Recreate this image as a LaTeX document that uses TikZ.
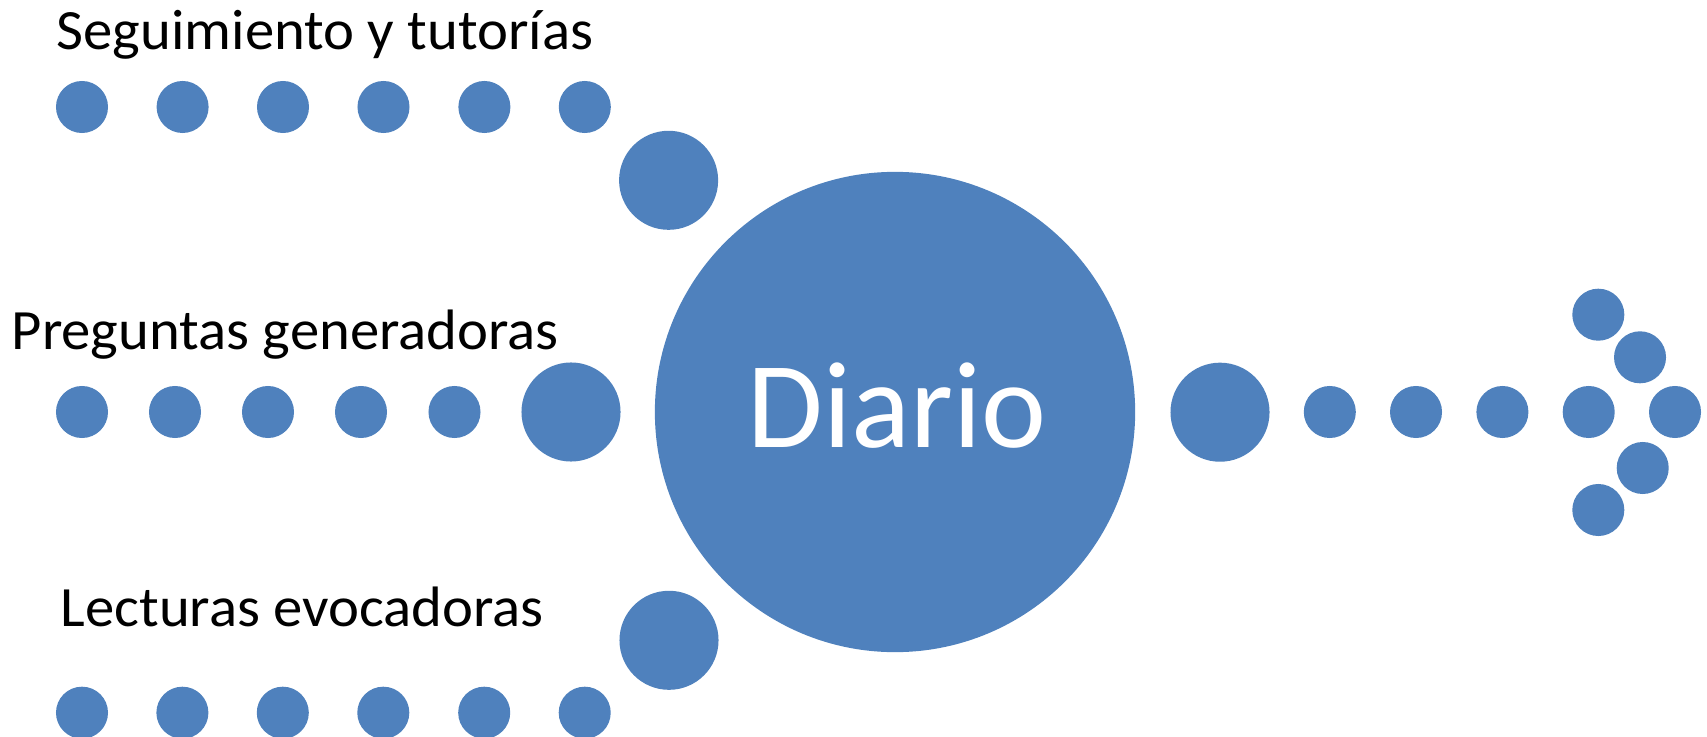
\documentclass[tikz,border=0pt]{standalone}
\usepackage{fontspec}
\setmainfont{Carlito}
\usepackage{tikz}
\definecolor{azuldiario}{RGB}{79,129,189}

\begin{document}
\begin{tikzpicture}[x=0.01cm,y=-0.01cm,
    punto/.style={circle,fill=azuldiario,inner sep=0pt,minimum size=0.52cm},
    puntogrande/.style={circle,fill=azuldiario,inner sep=0pt,minimum size=0.99cm},
    titulo/.style={anchor=base west,inner sep=0pt,font=\fontsize{16.2}{19}\selectfont\addfontfeature{FakeStretch=1.03}}]
\useasboundingbox (0,0) rectangle (1707,737);
% centro
\node[circle,fill=azuldiario,inner sep=0pt,minimum size=4.8cm] (diario) at (895,412) {};
\node[anchor=base,inner sep=0pt,text=white,font=\fontsize{35}{42}\selectfont] (diariotxt) at (897,447.7) {Diario};
% seguimiento
\node[titulo] (seguimiento) at (56,49.3) {Seguimiento y tutorías};
\node[punto] (seg1) at (82,107) {};
\node[punto] (seg2) at (182.6,107) {};
\node[punto] (seg3) at (283,107) {};
\node[punto] (seg4) at (383.5,107) {};
\node[punto] (seg5) at (484.4,107) {};
\node[punto] (seg6) at (584.8,107) {};
\node[puntogrande] (seg7) at (668.6,180.3) {};
% preguntas
\node[titulo] (preguntas) at (11,349.3) {Preguntas generadoras};
\node[punto] (preg1) at (82,412) {};
\node[punto] (preg2) at (175,412) {};
\node[punto] (preg3) at (268,412) {};
\node[punto] (preg4) at (361,412) {};
\node[punto] (preg5) at (454.5,412) {};
\node[puntogrande] (preg6) at (571,412) {};
% lecturas
\node[titulo] (lecturas) at (60,626.7) {Lecturas evocadoras};
\node[punto] (lect1) at (82,712.7) {};
\node[punto] (lect2) at (182.4,712.7) {};
\node[punto] (lect3) at (282.8,712.7) {};
\node[punto] (lect4) at (383.3,712.7) {};
\node[punto] (lect5) at (484.2,712.7) {};
\node[punto] (lect6) at (584.7,712.7) {};
\node[puntogrande] (lect7) at (669,640.3) {};
% salida
\node[puntogrande] (sal1) at (1220,412.2) {};
\node[punto] (sal2) at (1329.8,412) {};
\node[punto] (sal3) at (1416,412) {};
\node[punto] (sal4) at (1502.4,412) {};
\node[punto] (sal5) at (1588.7,412) {};
\node[punto] (punta) at (1675,412) {};
\node[punto] (arriba1) at (1598.3,314.7) {};
\node[punto] (arriba2) at (1640,357.3) {};
\node[punto] (abajo2) at (1642.7,468) {};
\node[punto] (abajo1) at (1598.3,510) {};
\end{tikzpicture}
\end{document}
